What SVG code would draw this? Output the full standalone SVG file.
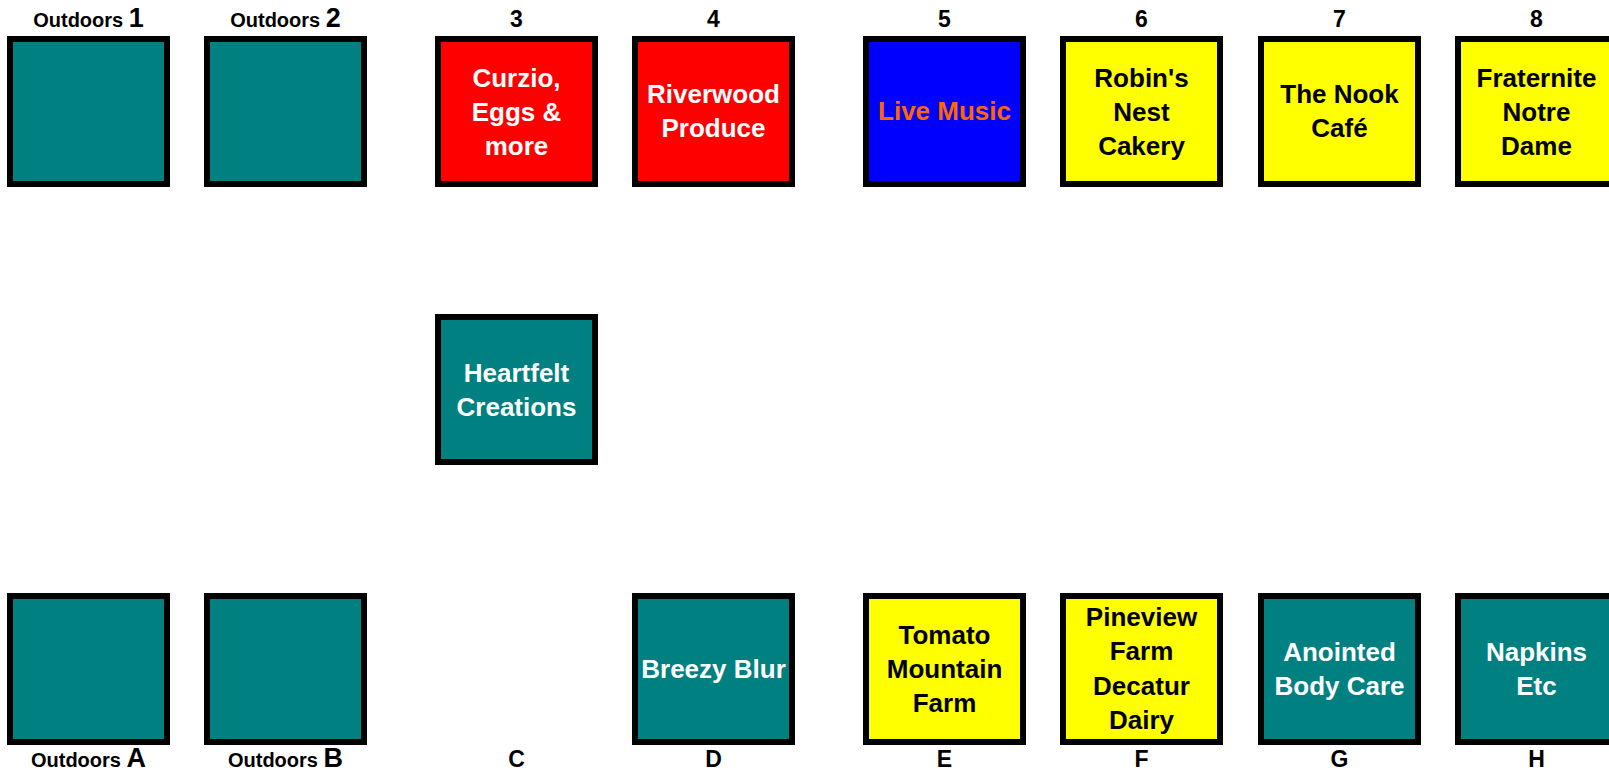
<svg xmlns="http://www.w3.org/2000/svg" width="1609" height="773" viewBox="0 0 1609 773">
<style>
.b{stroke:#000;stroke-width:6}
.teal{fill:#008080}
.red{fill:#FF0000}
.blue{fill:#0000FF}
.yel{fill:#FFFF00}
text{font-family:"Liberation Sans",Arial,sans-serif;font-weight:bold;text-anchor:middle}
.t{font-size:26px}
.w{fill:#FFFFFF}
.k{fill:#000000}
.o{fill:#FF6600}
.lab{font-size:23px;fill:#000}
.sm{font-size:20px}
.bg{font-size:27px}
</style>
<rect width="1609" height="773" fill="#FFFFFF"/>
<g id="labels">
<text class="lab" x="88.5" y="27"><tspan class="sm">Outdoors </tspan><tspan class="bg">1</tspan></text>
<text class="lab" x="285.5" y="27"><tspan class="sm">Outdoors </tspan><tspan class="bg">2</tspan></text>
<text class="lab" x="516.5" y="27">3</text>
<text class="lab" x="713.5" y="27">4</text>
<text class="lab" x="944.5" y="27">5</text>
<text class="lab" x="1141.5" y="27">6</text>
<text class="lab" x="1339.5" y="27">7</text>
<text class="lab" x="1536.5" y="27">8</text>
<text class="lab" x="88.5" y="767"><tspan class="sm">Outdoors </tspan><tspan class="bg">A</tspan></text>
<text class="lab" x="285.5" y="767"><tspan class="sm">Outdoors </tspan><tspan class="bg">B</tspan></text>
<text class="lab" x="516.5" y="767">C</text>
<text class="lab" x="713.5" y="767">D</text>
<text class="lab" x="944.5" y="767">E</text>
<text class="lab" x="1141.5" y="767">F</text>
<text class="lab" x="1339.5" y="767">G</text>
<text class="lab" x="1536.5" y="767">H</text>
</g>
<g id="stall-1"><rect class="b teal" x="10" y="39" width="157" height="145"/></g>
<g id="stall-2"><rect class="b teal" x="207" y="39" width="157" height="145"/></g>
<g id="stall-3"><rect class="b red" x="438" y="39" width="157" height="145"/>
<text class="t w" x="516.5" y="87">Curzio,</text><text class="t w" x="516.5" y="121">Eggs &amp;</text><text class="t w" x="516.5" y="155">more</text></g>
<g id="stall-4"><rect class="b red" x="635" y="39" width="157" height="145"/>
<text class="t w" x="713.5" y="103">Riverwood</text><text class="t w" x="713.5" y="137">Produce</text></g>
<g id="stall-5"><rect class="b blue" x="866" y="39" width="157" height="145"/>
<text class="t o" x="944.5" y="120">Live Music</text></g>
<g id="stall-6"><rect class="b yel" x="1063" y="39" width="157" height="145"/>
<text class="t k" x="1141.5" y="87">Robin's</text><text class="t k" x="1141.5" y="121">Nest</text><text class="t k" x="1141.5" y="155">Cakery</text></g>
<g id="stall-7"><rect class="b yel" x="1261" y="39" width="157" height="145"/>
<text class="t k" x="1339.5" y="103">The Nook</text><text class="t k" x="1339.5" y="137">Café</text></g>
<g id="stall-8"><rect class="b yel" x="1458" y="39" width="157" height="145"/>
<text class="t k" x="1536.5" y="87">Fraternite</text><text class="t k" x="1536.5" y="121">Notre</text><text class="t k" x="1536.5" y="155">Dame</text></g>
<g id="stall-heartfelt"><rect class="b teal" x="438" y="317" width="157" height="145"/>
<text class="t w" x="516.5" y="382">Heartfelt</text><text class="t w" x="516.5" y="416">Creations</text></g>
<g id="stall-A"><rect class="b teal" x="10" y="596" width="157" height="146"/></g>
<g id="stall-B"><rect class="b teal" x="207" y="596" width="157" height="146"/></g>
<g id="stall-D"><rect class="b teal" x="635" y="596" width="157" height="146"/>
<text class="t w" x="713.5" y="678">Breezy Blur</text></g>
<g id="stall-E"><rect class="b yel" x="866" y="596" width="157" height="146"/>
<text class="t k" x="944.5" y="644">Tomato</text><text class="t k" x="944.5" y="678">Mountain</text><text class="t k" x="944.5" y="712">Farm</text></g>
<g id="stall-F"><rect class="b yel" x="1063" y="596" width="157" height="146"/>
<text class="t k" x="1141.5" y="626">Pineview</text><text class="t k" x="1141.5" y="660">Farm</text><text class="t k" x="1141.5" y="695">Decatur</text><text class="t k" x="1141.5" y="729">Dairy</text></g>
<g id="stall-G"><rect class="b teal" x="1261" y="596" width="157" height="146"/>
<text class="t w" x="1339.5" y="661">Anointed</text><text class="t w" x="1339.5" y="695">Body Care</text></g>
<g id="stall-H"><rect class="b teal" x="1458" y="596" width="157" height="146"/>
<text class="t w" x="1536.5" y="661">Napkins</text><text class="t w" x="1536.5" y="695">Etc</text></g>
</svg>
